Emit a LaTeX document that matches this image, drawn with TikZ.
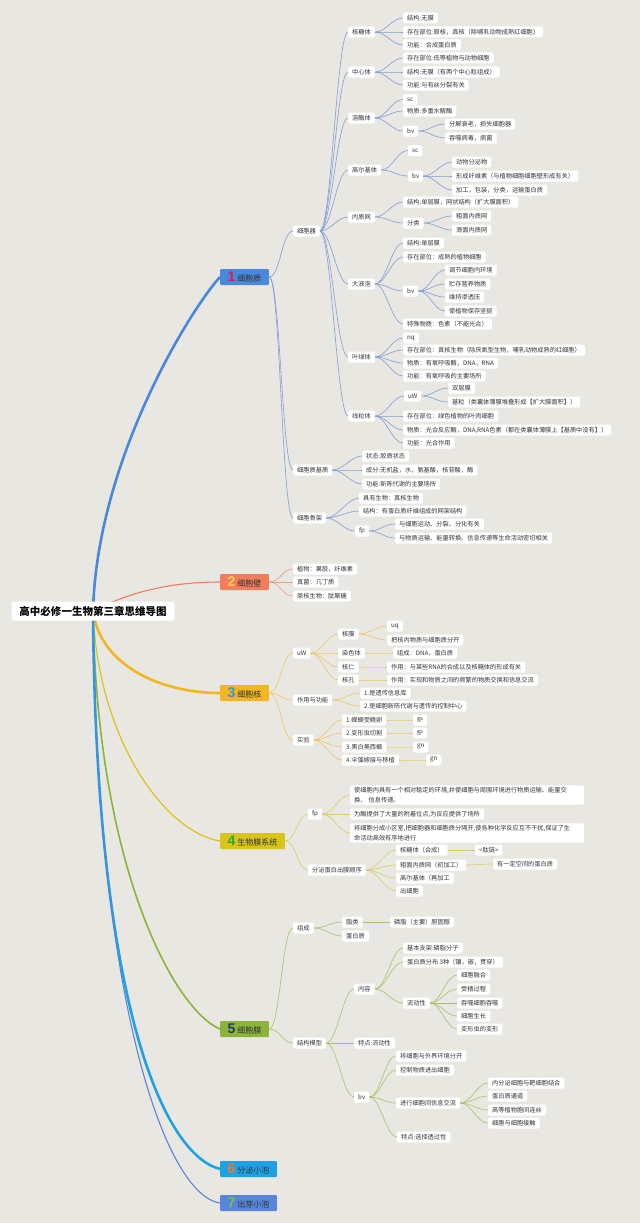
\documentclass[tikz,border=0pt]{standalone}
\usepackage{fontspec}
\setmainfont{Noto Sans CJK SC}
\newfontfamily\numf{Liberation Sans}
\usetikzlibrary{backgrounds}
\definecolor{bg}{RGB}{233,231,225}
\definecolor{txt}{RGB}{51,51,51}
\definecolor{c1}{RGB}{74,136,220}
\definecolor{c1l}{RGB}{128,158,215}
\definecolor{c2}{RGB}{240,126,94}
\definecolor{c2l}{RGB}{232,160,135}
\definecolor{c3}{RGB}{242,181,36}
\definecolor{c3l}{RGB}{236,200,100}
\definecolor{c4}{RGB}{217,196,28}
\definecolor{c4l}{RGB}{215,205,100}
\definecolor{c5}{RGB}{139,180,58}
\definecolor{c5l}{RGB}{172,192,105}
\definecolor{c6}{RGB}{30,162,227}
\definecolor{c7}{RGB}{88,133,218}
\definecolor{n1}{RGB}{214,32,78}
\definecolor{n2}{RGB}{249,210,90}
\definecolor{n3}{RGB}{46,155,208}
\definecolor{n4}{RGB}{47,165,53}
\definecolor{n5}{RGB}{35,60,112}
\definecolor{n6}{RGB}{238,122,44}
\definecolor{n7}{RGB}{123,194,71}
\newcommand\kids[3]{\foreach \q in {#3}{\draw[ln=#1] (#2.east) to[cv] (\q.west);}}
\newcommand\topic[3]{{\numf\bfseries\fontsize{14}{14}\selectfont\color{#1}#2}\hspace{2pt}#3}
\begin{document}
\begin{tikzpicture}[x=1pt,y=-1pt,
  bx/.style={fill=white, rounded corners=1.5pt, inner xsep=4pt, inner ysep=0pt, minimum height=11pt, anchor=west, text=txt, font=\fontsize{6.2}{9.5}\selectfont},
  mt/.style={fill=#1, rounded corners=1pt, inner xsep=7.5pt, inner ysep=0pt, minimum height=16pt, anchor=west, text=txt, font=\fontsize{8}{9}\selectfont},
  ln/.style={draw=#1, line width=0.6pt},
  cv/.style={out=0, in=180, distance=11pt}]
\begin{scope}[on background layer]
\fill[bg] (0,0) rectangle (640,1223);
\end{scope}
\useasboundingbox (0,0) rectangle (640,1223);

% root
\node[fill=white, rounded corners=2pt, minimum height=19pt, inner xsep=8pt, inner ysep=0pt, font=\bfseries\fontsize{10.5}{12}\selectfont, text=black] (root) at (93,611) {高中必修一生物第三章思维导图};

% main topics
\node[mt=c1] (m1) at (220,277) {\topic{n1}{1}{细胞质}};
\node[mt=c2] (m2) at (220,582) {\topic{n2}{2}{细胞壁}};
\node[mt=c3] (m3) at (220,693) {\topic{n3}{3}{细胞核}};
\node[mt=c4] (m4) at (220,841) {\topic{n4}{4}{生物膜系统}};
\node[mt=c5] (m5) at (220,1029) {\topic{n5}{5}{细胞膜}};
\node[mt=c6] (m6) at (220,1169) {\topic{n6}{6}{分泌小泡}};
\node[mt=c7] (m7) at (220,1203) {\topic{n7}{7}{出芽小泡}};

\begin{scope}[on background layer]
\draw[c1, line width=2.6pt] (root.center) .. controls (97,460) and (190,310) .. (m1.west);
\draw[c2, line width=1.1pt] (root.center) .. controls (130,592) and (170,582) .. (m2.west);
\draw[c3, line width=2.6pt] (root.center) .. controls (100,665) and (160,693) .. (m3.west);
\draw[c4, line width=1.2pt] (root.center) .. controls (98,740) and (165,832) .. (m4.west);
\draw[c5, line width=1.6pt] (root.center) .. controls (97,870) and (175,1010) .. (m5.west);
\draw[c6, line width=2.6pt] (root.center) .. controls (96,1010) and (165,1155) .. (m6.west);
\draw[c7, line width=1.1pt] (root.center) .. controls (96,1000) and (165,1195) .. (m7.west);
\end{scope}

% ===== branch 1 =====
\node[bx] (a) at (293,231) {细胞器};
\node[bx] (b) at (293,470) {细胞质基质};
\node[bx] (c) at (293,518) {细胞骨架};
\node[bx] (a1) at (348,32) {核糖体};
\node[bx] (a2) at (348,72) {中心体};
\node[bx] (a3) at (348,118) {溶酶体};
\node[bx] (a4) at (348,170) {高尔基体};
\node[bx] (a5) at (348,217) {内质网};
\node[bx] (a6) at (348,284) {大液泡};
\node[bx] (a7) at (348,357) {叶绿体};
\node[bx] (a8) at (348,416) {线粒体};

\node[bx] (a1a) at (403,18) {结构:无膜};
\node[bx] (a1b) at (403,32) {存在部位:原核，真核（除哺乳动物成熟红细胞）};
\node[bx] (a1c) at (403,45) {功能：合成蛋白质};

\node[bx] (a2a) at (403,58) {存在部位:低等植物与动物细胞};
\node[bx] (a2b) at (403,72) {结构:无膜（有两个中心粒组成）};
\node[bx] (a2c) at (403,85) {功能:与有丝分裂有关};

\node[bx] (a3a) at (403,99.5) {sc};
\node[bx] (a3b) at (403,111) {物质:多重水解酶};
\node[bx] (a3c) at (403,131) {bv};
\node[bx] (a3d) at (445,124) {分解衰老，损失细胞器};
\node[bx] (a3e) at (445,138) {吞噬病毒，病菌};

\node[bx] (a4a) at (408,150.5) {sc};
\node[bx] (a4b) at (408,176) {bv};
\node[bx] (a4c) at (452,162) {动物分泌物};
\node[bx] (a4d) at (452,176) {形成纤维素（与植物细胞细胞壁形成有关）};
\node[bx] (a4e) at (452,190) {加工，包装，分类，运输蛋白质};

\node[bx] (a5a) at (403,202) {结构:单层膜，网状结构（扩大膜面积）};
\node[bx] (a5b) at (403,223) {分类};
\node[bx] (a5c) at (452,216) {粗面内质网};
\node[bx] (a5d) at (452,230) {滑面内质网};

\node[bx] (a6a) at (403,243) {结构:单层膜};
\node[bx] (a6b) at (403,257) {存在部位：成熟的植物细胞};
\node[bx] (a6c) at (403,291) {bv};
\node[bx] (a6d) at (403,324) {特殊物质：色素（不能光合）};
\node[bx] (a6e) at (445,270) {调节细胞内环境};
\node[bx] (a6f) at (445,284) {贮存营养物质};
\node[bx] (a6g) at (445,297) {维持渗透压};
\node[bx] (a6h) at (445,311) {使植物保存坚挺};

\node[bx] (a7a) at (403,338) {nq};
\node[bx] (a7b) at (403,350) {存在部位：真核生物（除厌氧型生物，哺乳动物成熟的红细胞）};
\node[bx] (a7c) at (403,363) {物质：有氧呼吸酶，DNA，RNA};
\node[bx] (a7d) at (403,376) {功能：有氧呼吸的主要场所};

\node[bx] (a8a) at (404,396) {uW};
\node[bx] (a8b) at (448,388) {双层膜};
\node[bx] (a8c) at (448,402) {基粒（类囊体薄膜堆叠形成【扩大膜面积】）};
\node[bx] (a8d) at (403,416) {存在部位：绿色植物的叶肉细胞};
\node[bx] (a8e) at (403,430) {物质：光合反应酶，DNA,RNA色素（都在类囊体薄膜上【基质中没有】）};
\node[bx] (a8f) at (403,443) {功能：光合作用};

\node[bx] (b1) at (362,456) {状态:胶质状态};
\node[bx] (b2) at (362,470) {成分:无机盐，水，氨基酸，核苷酸，酶};
\node[bx] (b3) at (362,484) {功能:新陈代谢的主要场所};

\node[bx] (c1) at (359,498) {具有生物：真核生物};
\node[bx] (c2) at (359,511) {结构：有蛋白质纤维组成的网架结构};
\node[bx] (c3) at (355,531) {fp};
\node[bx] (c4) at (395,524) {与细胞运动、分裂、分化有关};
\node[bx] (c5) at (395,538) {与物质运输、能量转换、信息传递等生命活动密切相关};

\kids{c1l}{m1}{a,b,c}
\kids{c1l}{a}{a1,a2,a3,a4,a5,a6,a7,a8}
\kids{c1l}{a1}{a1a,a1b,a1c}
\kids{c1l}{a2}{a2a,a2b,a2c}
\kids{c1l}{a3}{a3a,a3b,a3c}
\kids{c1l}{a3c}{a3d,a3e}
\kids{c1l}{a4}{a4a,a4b}
\kids{c1l}{a4b}{a4c,a4d,a4e}
\kids{c1l}{a5}{a5a,a5b}
\kids{c1l}{a5b}{a5c,a5d}
\kids{c1l}{a6}{a6a,a6b,a6c,a6d}
\kids{c1l}{a6c}{a6e,a6f,a6g,a6h}
\kids{c1l}{a7}{a7a,a7b,a7c,a7d}
\kids{c1l}{a8}{a8a,a8d,a8e,a8f}
\kids{c1l}{a8a}{a8b,a8c}
\kids{c1l}{b}{b1,b2,b3}
\kids{c1l}{c}{c1,c2,c3}
\kids{c1l}{c3}{c4,c5}

% ===== branch 2 =====
\node[bx] (g1) at (293,569) {植物：果胶，纤维素};
\node[bx] (g2) at (293,582) {真菌：几丁质};
\node[bx] (g3) at (293,596) {原核生物：肽聚糖};
\kids{c2l}{m2}{g1,g2,g3}

% ===== branch 3 =====
\node[bx] (d1) at (293,653) {uW};
\node[bx] (d1a) at (338,634) {核膜};
\node[bx] (d1b) at (338,653) {染色体};
\node[bx] (d1c) at (338,667) {核仁};
\node[bx] (d1d) at (338,680) {核孔};
\node[bx] (d1e) at (387,626) {uq};
\node[bx] (d1f) at (387,640) {把核内物质与细胞质分开};
\node[bx] (d1g) at (393,653) {组成：DNA，蛋白质};
\node[bx] (d1h) at (387,667) {作用：与某些RNA的合成以及核糖体的形成有关};
\node[bx] (d1i) at (387,680) {作用：实现和物质之间的频繁的物质交换和信息交流};
\node[bx] (d2) at (293,700) {作用与功能};
\node[bx] (d2a) at (360,693) {1.是遗传信息库};
\node[bx] (d2b) at (360,706) {2.是细胞新陈代谢与遗传的控制中心};
\node[bx] (d3) at (293,740) {实验};
\node[bx] (d3a) at (342,720) {1.蝾螈受精卵};
\node[bx] (d3b) at (342,733) {2.变形虫切割};
\node[bx] (d3c) at (342,747) {3.黑白美西螈};
\node[bx] (d3d) at (342,760) {4.伞藻嫁接与移植};
\node[bx] (d3e) at (413,720) {fP};
\node[bx] (d3f) at (413,733) {fP};
\node[bx] (d3g) at (413,747) {gn};
\node[bx] (d3h) at (426,760) {gn};
\kids{c3l}{m3}{d1,d2,d3}
\kids{c3l}{d1}{d1a,d1b,d1c,d1d}
\kids{c3l}{d1a}{d1e,d1f}
\kids{c3l}{d1b}{d1g}
\kids{c3l}{d1c}{d1h}
\kids{c3l}{d1d}{d1i}
\kids{c3l}{d2}{d2a,d2b}
\kids{c3l}{d3}{d3a,d3b,d3c,d3d}
\kids{c3l}{d3a}{d3e}
\kids{c3l}{d3b}{d3f}
\kids{c3l}{d3c}{d3g}
\kids{c3l}{d3d}{d3h}

% ===== branch 4 =====
\node[bx] (e1) at (308,814) {fp};
\node[bx, text width=226pt, align=left, inner ysep=2pt] (e1a) at (350,795) {使细胞内具有一个相对稳定的环境,并使细胞与周围环境进行物质运输、能量交\\换、 信息传递。};
\node[bx] (e1b) at (350,814) {为酶提供了大量的附着位点,为反应提供了场所};
\node[bx, text width=226pt, align=left, inner ysep=2pt] (e1c) at (350,833) {将细胞分成小区室,把细胞器和细胞质分隔开,使各种化学反应互不干扰,保证了生\\命活动高效有序地进行};
\node[bx] (e2) at (308,870) {分泌蛋白出膜顺序};
\node[bx] (e2a) at (396,850) {核糖体（合成）};
\node[bx] (e2b) at (396,865) {粗面内质网（初加工）};
\node[bx] (e2c) at (396,878) {高尔基体（再加工};
\node[bx] (e2d) at (396,891) {出细胞};
\node[bx] (e2e) at (475,850) {<肽链>};
\node[bx] (e2f) at (493,864) {有一定空间的蛋白质};
\kids{c4l}{m4}{e1,e2}
\kids{c4l}{e1}{e1a,e1b,e1c}
\kids{c4l}{e2}{e2a,e2b,e2c,e2d}
\kids{c4l}{e2a}{e2e}
\kids{c4l}{e2b}{e2f}

% ===== branch 5 =====
\node[bx] (f1) at (293,928) {组成};
\node[bx] (f1a) at (342,922) {脂类};
\node[bx] (f1b) at (342,936) {蛋白质};
\node[bx] (f1c) at (390,922) {磷脂（主要）胆固醇};
\node[bx] (f2) at (293,1043) {结构模型};
\node[bx] (f2a) at (354,989) {内容};
\node[bx] (f2b) at (354,1043) {特点:流动性};
\node[bx] (f2c) at (354,1097) {bv};
\node[bx] (f2d) at (403,948) {基本支架:磷脂分子};
\node[bx] (f2e) at (403,962) {蛋白质分布 3种（镶，嵌，贯穿）};
\node[bx] (f2f) at (403,1003) {流动性};
\node[bx] (f2g) at (457,975) {细胞融合};
\node[bx] (f2h) at (457,989) {受精过程};
\node[bx] (f2i) at (457,1003) {吞噬细胞吞噬};
\node[bx] (f2j) at (457,1016) {细胞生长};
\node[bx] (f2k) at (457,1029) {变形虫的变形};
\node[bx] (f2l) at (396,1056) {将细胞与外界环境分开};
\node[bx] (f2m) at (396,1070) {控制物质进出细胞};
\node[bx] (f2n) at (396,1103) {进行细胞间信息交流};
\node[bx] (f2o) at (397,1137) {特点:选择透过性};
\node[bx] (f2p) at (488,1083) {内分泌细胞与靶细胞结合};
\node[bx] (f2q) at (488,1096) {蛋白质通道};
\node[bx] (f2r) at (488,1110) {高等植物胞间连丝};
\node[bx] (f2s) at (488,1123) {细胞与细胞接触};
\kids{c5l}{m5}{f1,f2}
\kids{c5l}{f1}{f1a,f1b}
\kids{c5l}{f1a}{f1c}
\kids{c5l}{f2}{f2a,f2b,f2c}
\kids{c5l}{f2a}{f2d,f2e,f2f}
\kids{c5l}{f2f}{f2g,f2h,f2i,f2j,f2k}
\kids{c5l}{f2c}{f2l,f2m,f2n,f2o}
\kids{c5l}{f2n}{f2p,f2q,f2r,f2s}
\end{tikzpicture}
\end{document}
